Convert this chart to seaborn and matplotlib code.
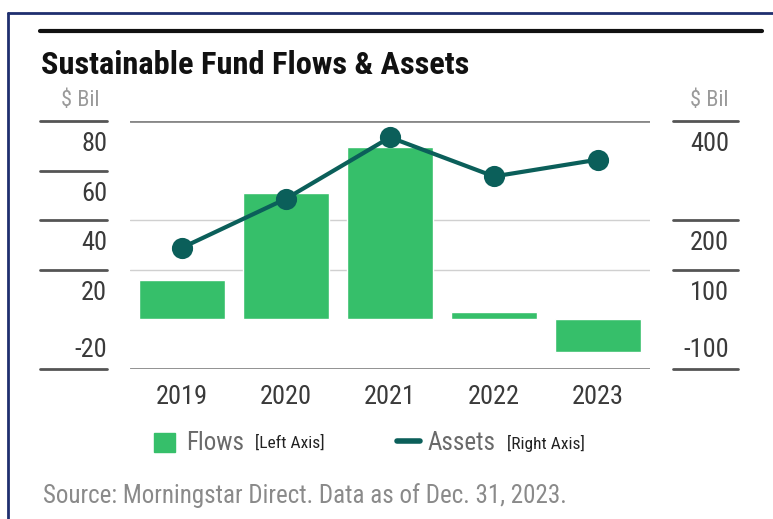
import matplotlib
matplotlib.use("Agg")
import matplotlib.pyplot as plt
import seaborn as sns
from matplotlib.patches import Rectangle
from matplotlib.lines import Line2D

# data
years = ["2019", "2020", "2021", "2022", "2023"]
flows = [15.6, 51.1, 69.3, 2.8, -13.3]      # $ Bil, left axis
assets = [144, 243, 367, 288, 322]          # $ Bil, right axis
left_ticks = [80, 60, 40, 20, -20]
right_ticks = [400, 200, 100, -100]

GREEN = "#36BF6A"
TEAL = "#0B5F5A"
DARK = "#6a6a6a"
TICK = "#3a3a3a"

sns.set_style("white")
plt.rcParams["font.family"] = ["Roboto Condensed", "DejaVu Sans"]
plt.rcParams["font.stretch"] = "condensed"

W, H = 773, 519
fig = plt.figure(figsize=(W / 100, H / 100), dpi=100)

def fx(px):
    return px / W

def fy(py):
    return 1 - py / H

ax = fig.add_axes([fx(130), fy(368.5), fx(520), (368.5 - 121) / H])
sns.barplot(x=years, y=flows, color=GREEN, saturation=1, width=0.83, ax=ax, zorder=2)
ax.set_ylim(-20, 80)
ax.set_xlim(-0.5, 4.5)

ax2 = ax.twinx()
sns.pointplot(x=years, y=assets, color=TEAL, markers="o", markersize=13,
              linewidth=3, ax=ax2)
ax2.set_ylim(-100, 400)
ax2.set_xlim(-0.5, 4.5)

for a in (ax, ax2):
    for s in a.spines.values():
        s.set_visible(False)
    a.set_yticks([])
    a.set_ylabel("")
    a.tick_params(axis="both", length=0)
ax2.set_xticks([])

# plot area rules
ax.axhline(80, color="#888888", lw=2, zorder=1)
ax.axhline(-20, color="#888888", lw=2, zorder=1)
ax.axhline(40, color="#d0d0d0", lw=1, zorder=1)
ax.axhline(20, color="#d0d0d0", lw=1, zorder=1)

def side_axis(a, ticks, x0, x1, xl):
    t = a.get_yaxis_transform()
    for v in ticks:
        a.plot([x0, x1], [v, v], color="#555555", lw=2, transform=t, clip_on=False)
        if v > 0:
            a.annotate(str(v), xy=(xl, v), xycoords=t, xytext=(0, -8),
                       textcoords="offset points", ha="right", va="top",
                       fontsize=19, color=TICK)
        else:
            a.annotate(str(v), xy=(xl, v), xycoords=t, xytext=(0, 5),
                       textcoords="offset points", ha="right", va="bottom",
                       fontsize=19, color=TICK)

side_axis(ax, left_ticks, -0.173, -0.044, -0.044)
side_axis(ax2, right_ticks, 1.044, 1.169, 1.152)

ax.set_xticks(range(len(years)))
ax.set_xticklabels(years, fontsize=19, color=TICK)
ax.tick_params(axis="x", pad=12)
ax.set_xlabel("")

# headers
fig.text(fx(41), fy(65), "Sustainable Fund Flows & Assets", fontsize=23.3,
         fontweight="bold", va="center", color="#111111")
fig.text(fx(99), fy(101), "$ Bil", fontsize=16, color="#9a9a9a", ha="right", va="center")
fig.text(fx(729), fy(101), "$ Bil", fontsize=16, color="#9a9a9a", ha="right", va="center")

# frame and top rule
fig.add_artist(Line2D([fx(40), fx(762)], [fy(31), fy(31)], color="#111111", lw=3))
fig.add_artist(Line2D([fx(8), fx(773)], [fy(13), fy(13)], color="#1F2F6F", lw=2))
fig.add_artist(Line2D([fx(8), fx(8)], [fy(13), 0], color="#1F2F6F", lw=2))

# legend
fig.add_artist(Rectangle((fx(154), fy(452)), fx(21), 19 / H, color=GREEN))
fig.text(fx(186), fy(443), "Flows", fontsize=18, color=DARK, va="center")
fig.text(fx(255), fy(443), "[Left Axis]", fontsize=12.5, color="#222222", va="center")
fig.add_artist(Line2D([fx(397), fx(420)], [fy(441), fy(441)], color=TEAL, lw=4))
fig.text(fx(428), fy(443), "Assets", fontsize=18, color=DARK, va="center")
fig.text(fx(507), fy(443), "[Right Axis]", fontsize=12.5, color="#222222", va="center")

fig.text(fx(43), fy(496), "Source: Morningstar Direct. Data as of Dec. 31, 2023.",
         fontsize=18, color="#8a8a8a", va="center")

fig.savefig("out.png", dpi=100)
